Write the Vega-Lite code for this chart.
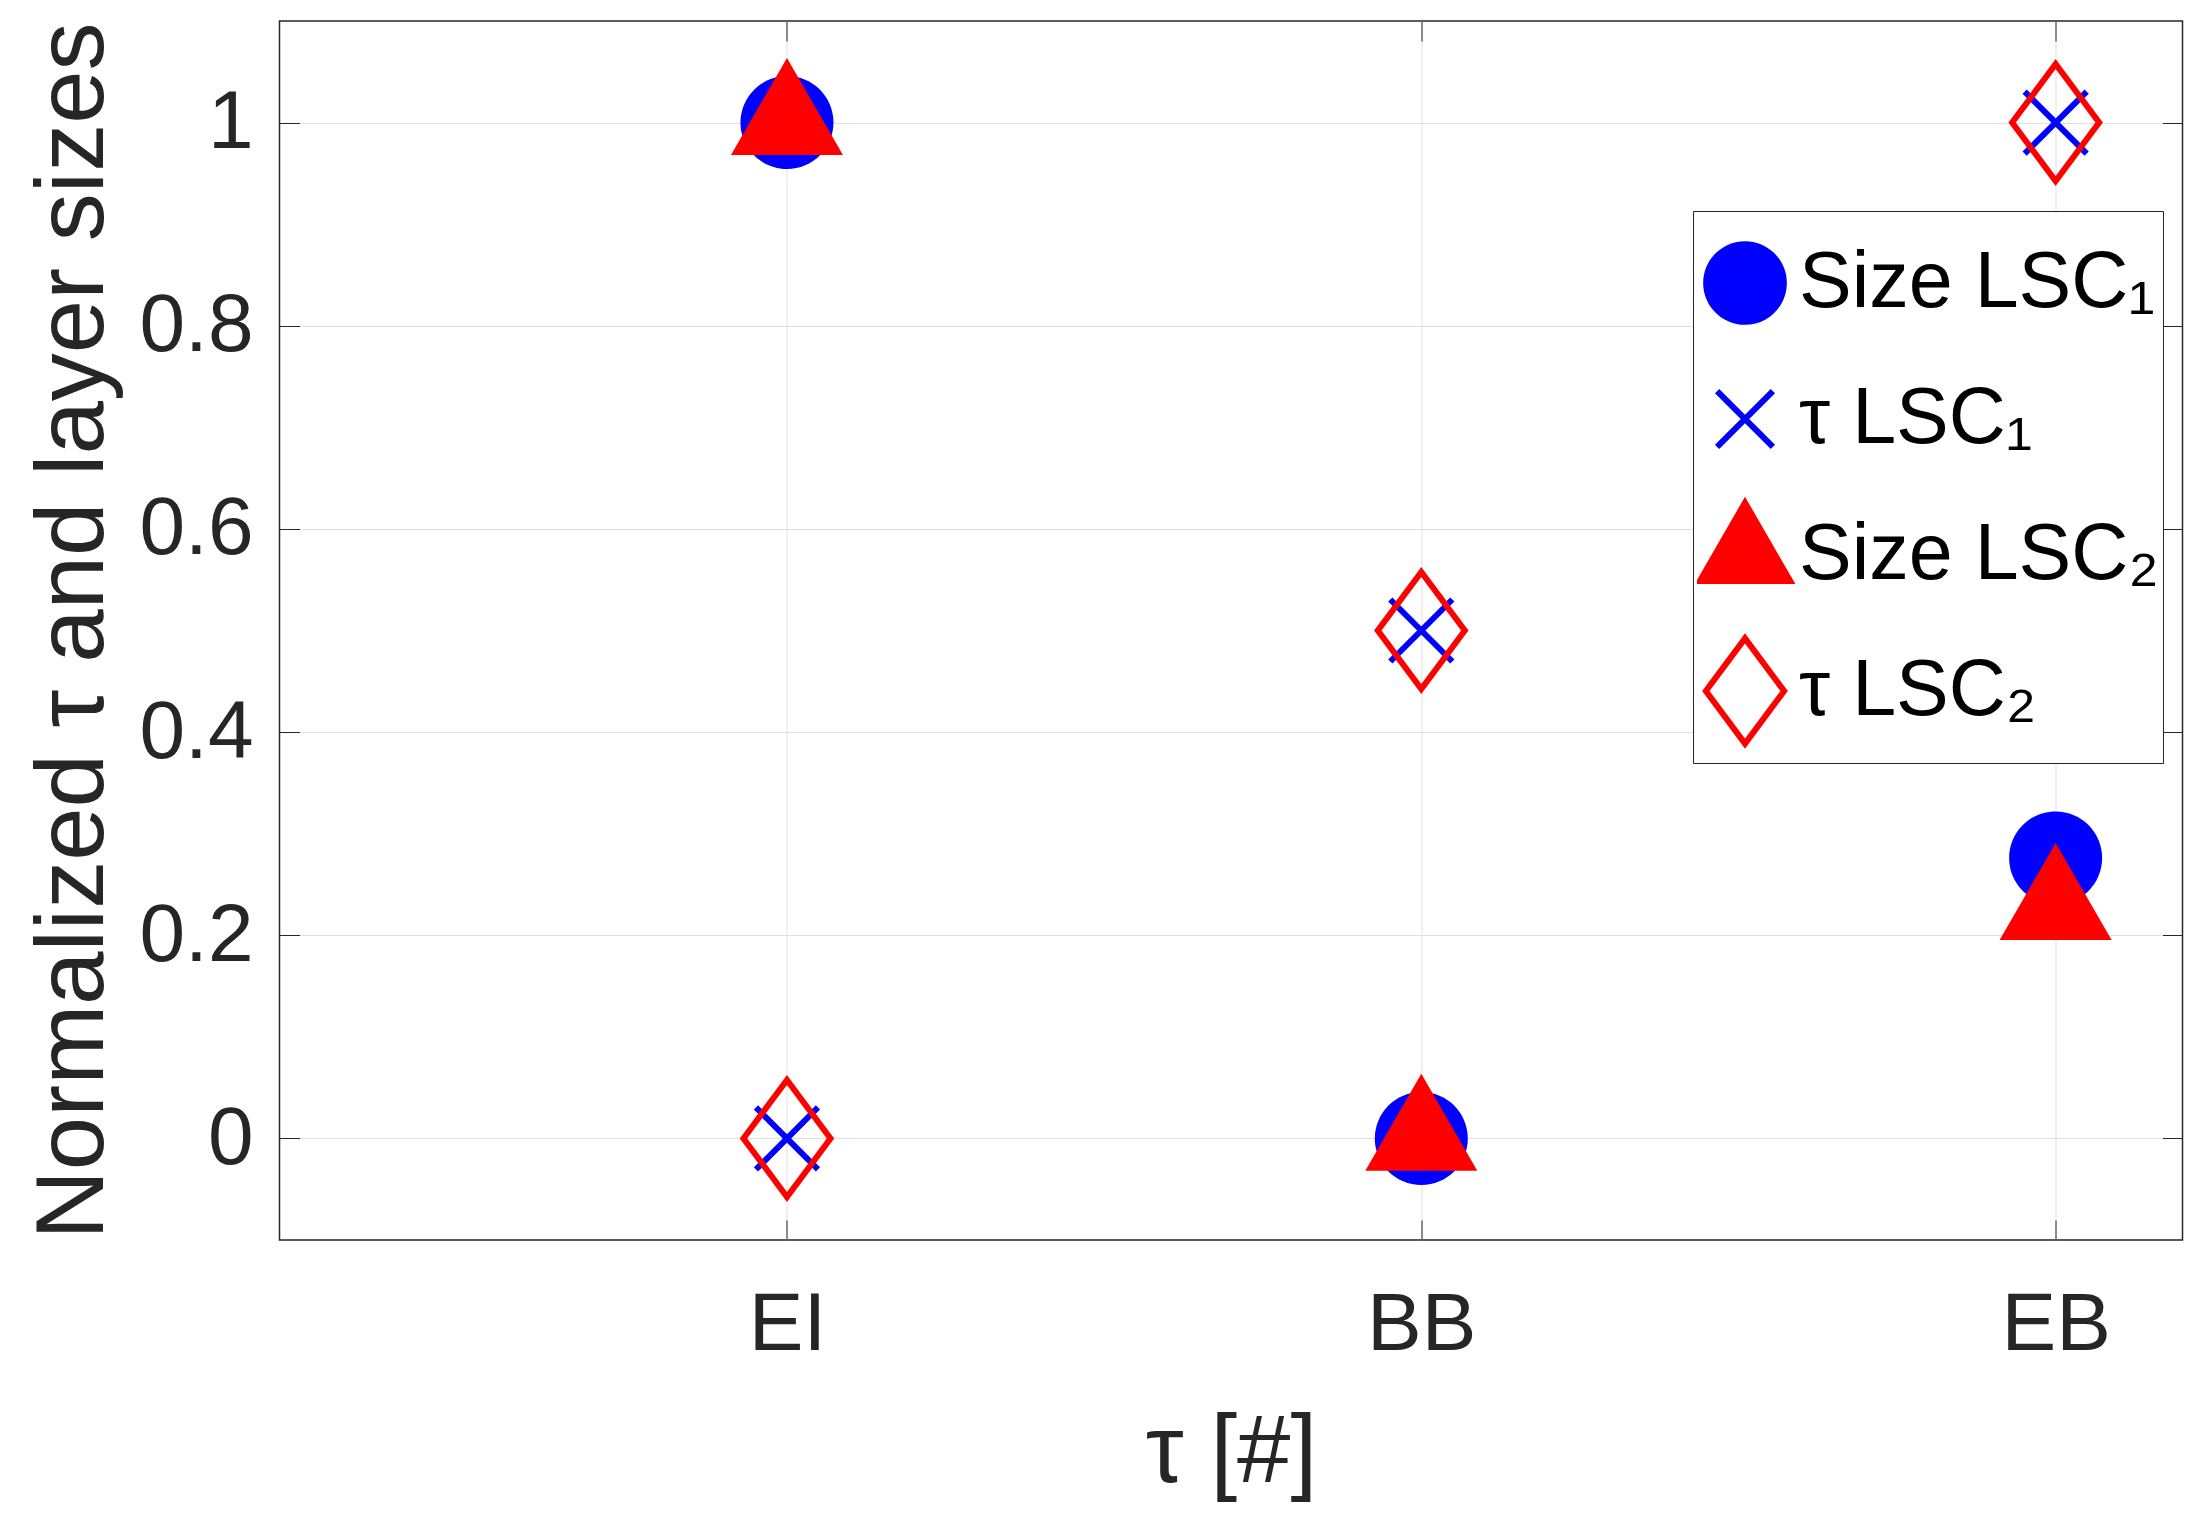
{
  "$schema": "https://vega.github.io/schema/vega-lite/v6.json",
  "width": 1903,
  "height": 1219,
  "autosize": {"type": "none"},
  "padding": {"left": 279.5, "top": 21, "right": 24.5, "bottom": 285},
  "background": "white",
  "config": {
    "view": {"stroke": "#262626", "strokeWidth": 1.5},
    "axis": {
      "domain": false,
      "gridColor": "#dfdfdf",
      "gridWidth": 1,
      "tickColor": "#262626",
      "tickWidth": 1,
      "tickSize": -20,
      "labelFont": "Liberation Sans",
      "titleFont": "Liberation Sans",
      "labelColor": "#262626",
      "titleColor": "#262626",
      "labelFontSize": 82,
      "titleFontSize": 96,
      "titleFontWeight": "normal"
    },
    "legend": {
      "padding": 4,
      "strokeColor": "#262626",
      "fillColor": "white",
      "labelFontSize": 79,
      "labelFont": "Liberation Sans",
      "labelColor": "black",
      "labelLimit": 0,
      "clipHeight": 136,
      "rowPadding": 0,
      "symbolSize": 8100,
      "symbolStrokeWidth": 6,
      "labelOffset": 6,
      "symbolOpacity": 1
    }
  },
  "data": {
    "values": [
      {"stage": "EI", "index": 1, "series": "Size LSC₁", "value": 1},
      {"stage": "BB", "index": 2, "series": "Size LSC₁", "value": 0},
      {"stage": "EB", "index": 3, "series": "Size LSC₁", "value": 0.276},
      {"stage": "EI", "index": 1, "series": "τ LSC₁", "value": 0},
      {"stage": "BB", "index": 2, "series": "τ LSC₁", "value": 0.5},
      {"stage": "EB", "index": 3, "series": "τ LSC₁", "value": 1},
      {"stage": "EI", "index": 1, "series": "Size LSC₂", "value": 1},
      {"stage": "BB", "index": 2, "series": "Size LSC₂", "value": 0},
      {"stage": "EB", "index": 3, "series": "Size LSC₂", "value": 0.227},
      {"stage": "EI", "index": 1, "series": "τ LSC₂", "value": 0},
      {"stage": "BB", "index": 2, "series": "τ LSC₂", "value": 0.5},
      {"stage": "EB", "index": 3, "series": "τ LSC₂", "value": 1}
    ]
  },
  "layer": [
    {
      "mark": {"type": "point", "filled": true, "strokeWidth": 6, "opacity": 1, "size": 10000},
      "encoding": {
        "x": {
          "field": "index",
          "type": "quantitative",
          "scale": {"domain": [0.2, 3.2], "nice": false, "zero": false},
          "axis": {
            "orient": "bottom",
            "values": [1, 2, 3],
            "labelExpr": "datum.value == 1 ? 'EI' : datum.value == 2 ? 'BB' : 'EB'",
            "title": "τ [#]",
            "labelPadding": 64,
            "titlePadding": 40,
            "grid": true
          }
        },
        "y": {
          "field": "value",
          "type": "quantitative",
          "scale": {"domain": [-0.1, 1.1], "nice": false, "zero": false},
          "axis": {
            "orient": "left",
            "values": [0, 0.2, 0.4, 0.6, 0.8, 1],
            "format": "~g",
            "title": "Normalized τ and layer sizes",
            "labelPadding": 46.5,
            "titlePadding": 17,
            "grid": true
          }
        },
        "shape": {
          "field": "series",
          "type": "nominal",
          "scale": {
            "domain": ["Size LSC₁", "τ LSC₁", "Size LSC₂", "τ LSC₂"],
            "range": [
              "M0.93,0A0.93,0.93,0,1,1,-0.93,0A0.93,0.93,0,1,1,0.93,0Z",
              "M-0.62,-0.62L0.62,0.62M0.62,-0.62L-0.62,0.62",
              "M0,-1.294L1.12,0.646L-1.12,0.646Z",
              "M0,-1.17L0.87,0L0,1.17L-0.87,0Z"
            ]
          },
          "legend": {"title": null, "orient": "none", "legendX": 1413.5, "legendY": 190}
        },
        "fill": {
          "field": "series",
          "type": "nominal",
          "scale": {
            "domain": ["Size LSC₁", "τ LSC₁", "Size LSC₂", "τ LSC₂"],
            "range": ["#0000ff", "transparent", "#ff0000", "transparent"]
          },
          "legend": {"title": null, "orient": "none", "legendX": 1413.5, "legendY": 190}
        },
        "stroke": {
          "field": "series",
          "type": "nominal",
          "scale": {
            "domain": ["Size LSC₁", "τ LSC₁", "Size LSC₂", "τ LSC₂"],
            "range": ["transparent", "#0000ff", "transparent", "#ff0000"]
          },
          "legend": {"title": null, "orient": "none", "legendX": 1413.5, "legendY": 190}
        }
      }
    },
    {
      "mark": {"type": "point", "opacity": 0},
      "encoding": {
        "x": {
          "field": "index",
          "type": "quantitative",
          "scale": {"domain": [0.2, 3.2], "nice": false, "zero": false},
          "axis": {"orient": "top", "values": [1, 2, 3], "labels": false, "title": null, "grid": false}
        },
        "y": {
          "field": "value",
          "type": "quantitative",
          "scale": {"domain": [-0.1, 1.1], "nice": false, "zero": false},
          "axis": {"orient": "right", "values": [0, 0.2, 0.4, 0.6, 0.8, 1], "labels": false, "title": null, "grid": false}
        }
      }
    }
  ],
  "resolve": {"axis": {"x": "independent", "y": "independent"}}
}
